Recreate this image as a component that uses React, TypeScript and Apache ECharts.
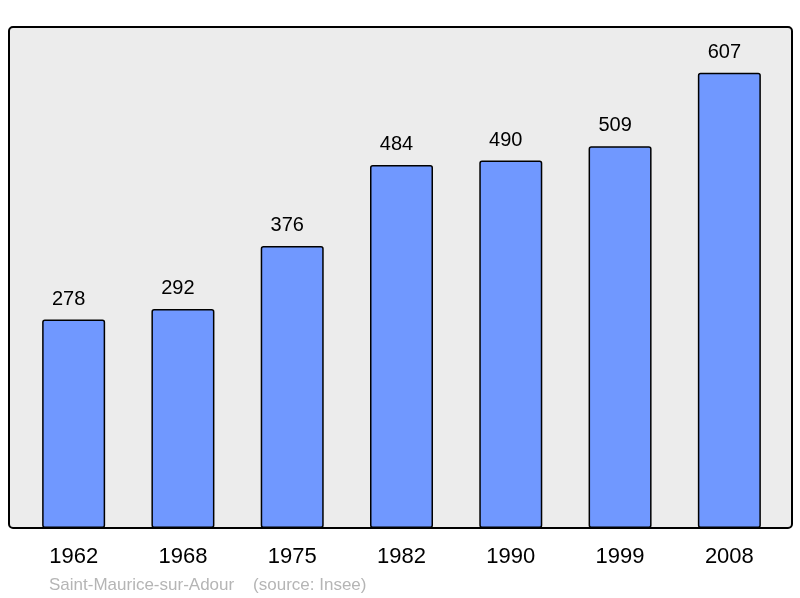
import React, { useEffect, useRef } from "react";
import * as echarts from "echarts";

const years = ["1962", "1968", "1975", "1982", "1990", "1999", "2008"];
const population = [278, 292, 376, 484, 490, 509, 607];
const sourceText = "Saint-Maurice-sur-Adour    (source: Insee)";

export default function App() {
  const ref = useRef<HTMLDivElement>(null);
  useEffect(() => {
    const chart = echarts.init(ref.current!, null, { renderer: "svg" });
    chart.setOption({
      animation: false,
      graphic: [
        {
          type: "rect",
          z: -10,
          silent: true,
          shape: { x: 9, y: 27, width: 783, height: 501, r: 4 },
          style: { fill: "#ececec", stroke: "#000", lineWidth: 2 },
        },
        {
          type: "text",
          x: 49,
          y: 584,
          style: {
            text: sourceText,
            fill: "#b5b5b5",
            verticalAlign: "middle",
            font: '17px "Liberation Sans", Arial, sans-serif',
          },
        },
      ],
      grid: { left: 19, width: 765, top: 27, height: 501 },
      xAxis: {
        type: "category",
        data: years,
        axisLine: { show: false },
        axisTick: { show: false },
        axisLabel: {
          margin: 16,
          color: "#000",
          fontSize: 22,
          fontFamily: '"Liberation Sans", Arial, sans-serif',
        },
      },
      yAxis: { type: "value", min: 0, max: 668, show: false, splitLine: { show: false } },
      series: [
        {
          type: "bar",
          data: population,
          barWidth: 63,
          itemStyle: {
            color: "#7098ff",
            borderColor: "#000",
            borderWidth: 1.5,
            borderRadius: 2,
          },
          label: {
            show: true,
            position: "top",
            distance: 12,
            offset: [-5, 0],
            color: "#000",
            fontSize: 20,
            fontFamily: '"Liberation Sans", Arial, sans-serif',
          },
        },
      ],
    });
    return () => chart.dispose();
  }, []);
  return (
    <div
      ref={ref}
      style={{ position: "fixed", left: 0, top: 0, width: 800, height: 598 }}
    />
  );
}
